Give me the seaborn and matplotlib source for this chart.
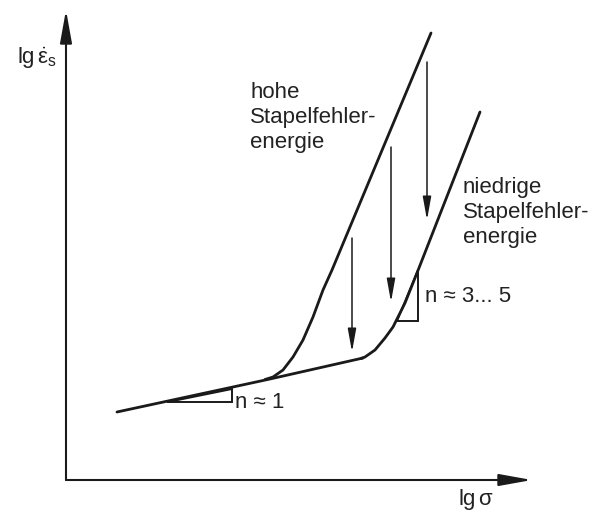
import matplotlib
matplotlib.use("Agg")
import matplotlib.pyplot as plt
import numpy as np
import pandas as pd
import seaborn as sns

# Schematic creep-rate curves: lg(strain rate) over lg(stress), arbitrary units
low_stress_x = [1.02, 4.08, 5.94]
low_stress_y = [1.36, 2.02, 2.44]

high_sfe_x = [3.98, 4.14, 4.34, 4.54, 4.74, 4.94, 5.14, 5.32, 7.30]
high_sfe_y = [2.01, 2.06, 2.20, 2.46, 2.80, 3.26, 3.80, 4.20, 8.94]

low_sfe_x = [5.90, 5.98, 6.18, 6.38, 6.54, 6.78, 7.02, 8.28]
low_sfe_y = [2.43, 2.46, 2.60, 2.84, 3.06, 3.54, 4.14, 7.36]

# Downward arrows: x, start y, end y
arrow_x = [7.22, 6.50, 5.72]
arrow_y0 = [8.36, 6.66, 4.84]
arrow_y1 = [5.20, 3.56, 2.56]

# Slope triangles (closed polylines)
tri_n1_x = [2.04, 3.32, 3.32]
tri_n1_y = [1.56, 1.56, 1.82]
tri_n35_x = [6.62, 7.04, 7.04]
tri_n35_y = [3.18, 3.18, 4.20]

axis_x_end = 9.32
axis_y_end = 9.40

sns.set_theme(style="white")
plt.rcParams["font.family"] = ["Liberation Sans", "DejaVu Sans"]
plt.rcParams["mathtext.fontset"] = "custom"
plt.rcParams["mathtext.rm"] = "Liberation Sans"
plt.rcParams["mathtext.it"] = "Liberation Sans"

fig = plt.figure(figsize=(6.01, 5.14), dpi=100)
ax = fig.add_axes([0, 0, 1, 1])
ax.set_xlim(-1.32, 10.70)
ax.set_ylim(-0.68, 9.60)
ax.axis("off")

ink = "#1a1a1a"
curve_lw = 2.0

curves = pd.concat([
    pd.DataFrame({"lg_sigma": low_stress_x, "lg_rate": low_stress_y, "part": "base"}),
    pd.DataFrame({"lg_sigma": high_sfe_x, "lg_rate": high_sfe_y, "part": "hoch"}),
    pd.DataFrame({"lg_sigma": low_sfe_x, "lg_rate": low_sfe_y, "part": "niedrig"}),
])
sns.lineplot(data=curves, x="lg_sigma", y="lg_rate", units="part", estimator=None,
             sort=False, color=ink, lw=curve_lw, ax=ax, legend=False)

# slope triangles
for tx, ty in [(tri_n1_x, tri_n1_y), (tri_n35_x, tri_n35_y)]:
    ax.plot(tx + [tx[0]], ty + [ty[0]], color=ink, lw=1.4, solid_joinstyle="miter")

# coordinate axes with filled arrowheads
axis_style = "-|>,head_length=1.0,head_width=0.18"
ax.annotate("", xy=(0, axis_y_end), xytext=(0, 0),
            arrowprops=dict(arrowstyle=axis_style, mutation_scale=20, color=ink,
                            lw=1.5, shrinkA=0, shrinkB=0))
ax.annotate("", xy=(axis_x_end, 0), xytext=(0, 0),
            arrowprops=dict(arrowstyle=axis_style, mutation_scale=20, color=ink,
                            lw=1.5, shrinkA=0, shrinkB=0))

# vertical arrows between the two branches
for xa, y0, y1 in zip(arrow_x, arrow_y0, arrow_y1):
    ax.annotate("", xy=(xa, y1), xytext=(xa, y0),
                arrowprops=dict(arrowstyle="-|>,head_length=1.0,head_width=0.18",
                                mutation_scale=14, color=ink, lw=1.1,
                                shrinkA=0, shrinkB=0))

fs = 16
txt = "#222222"
ax.text(-0.18, 8.44, r"lg$\,\dot{\varepsilon}_{\mathrm{s}}$", ha="right", va="center",
        fontsize=fs, color=txt)
ax.text(8.20, -0.40, r"lg$\,\sigma$", ha="center", va="center", fontsize=fs, color=txt)
ax.text(3.68, 7.96, "hohe\nStapelfehler-\nenergie", ha="left", va="top",
        fontsize=fs, color=txt, linespacing=1.25)
ax.text(7.94, 6.06, "niedrige\nStapelfehler-\nenergie", ha="left", va="top",
        fontsize=fs, color=txt, linespacing=1.25)
ax.text(3.38, 1.54, "n ≈ 1", ha="left", va="center", fontsize=fs, color=txt)
ax.text(7.18, 3.66, "n ≈ 3... 5", ha="left", va="center", fontsize=fs, color=txt)

fig.savefig("out.png", dpi=100, facecolor="white")
